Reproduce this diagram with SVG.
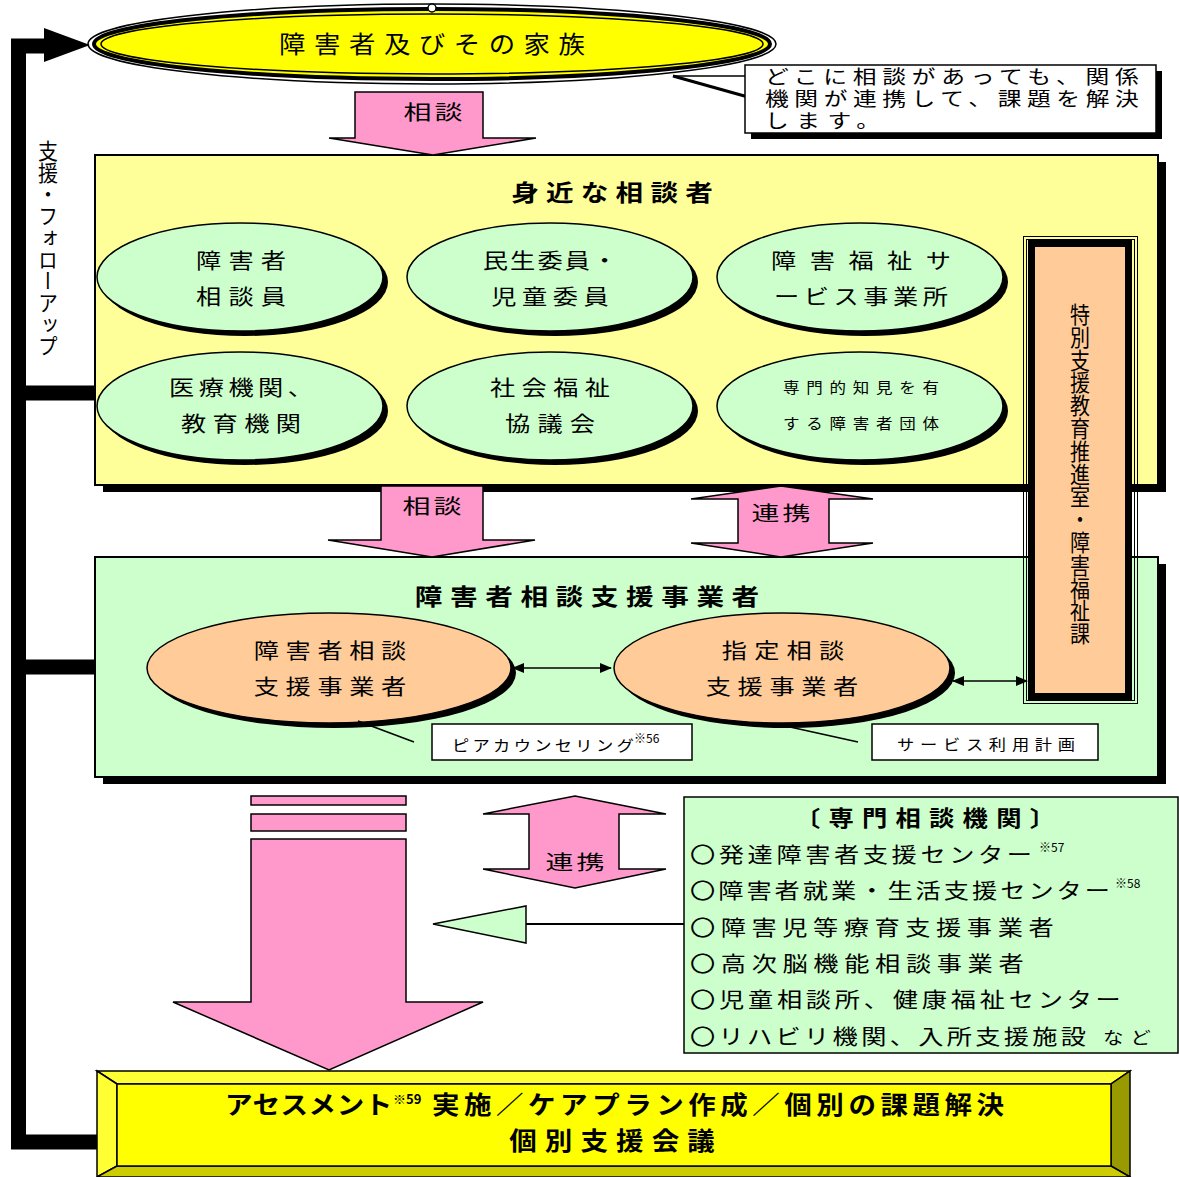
<svg xmlns="http://www.w3.org/2000/svg" width="1179" height="1177" viewBox="0 0 1179 1177">
<defs>
<style>
text{font-family:"Noto Sans CJK JP","Noto Sans CJK SC",sans-serif;fill:#000}
.t20{font-size:21px;text-anchor:middle}
.t15{font-size:15px;text-anchor:middle}
.b{font-weight:bold}
.pink{fill:#FF99CC;stroke:#000;stroke-width:1.5}
.sh{fill:#000}
.gE{fill:#CCFFCC;stroke:#000;stroke-width:1.5}
.oE{fill:#FFCC99;stroke:#000;stroke-width:1.5}
.lbl{fill:#fff;stroke:#000;stroke-width:1.5}
.thin{stroke:#000;stroke-width:1;fill:none}
.fb{stroke:#000;stroke-width:15;fill:none}
.vt{writing-mode:vertical-rl;font-size:20px}
.it{font-size:21px}
.cl{font-size:19px}
.arr{font-size:20px;text-anchor:middle}
</style>
<marker id="ah" viewBox="0 0 12 10" refX="11" refY="5" markerWidth="12" markerHeight="10" markerUnits="userSpaceOnUse" orient="auto-start-reverse">
<path d="M0,0 L12,5 L0,10 Z" fill="#000"/>
</marker>
</defs>
<rect width="1179" height="1177" fill="#fff"/>

<g id="yellow-box">
<rect x="103" y="162" width="1063" height="330" class="sh"/>
<rect x="95" y="155" width="1063" height="330" fill="#FFFF99" stroke="#000" stroke-width="2"/>
<text transform="translate(612,201) scale(1.2,1)" class="b" font-size="23" text-anchor="middle" textLength="168">身近な相談者</text>
</g>

<g id="green-box">
<rect x="103" y="564" width="1063" height="220" class="sh"/>
<rect x="95" y="557" width="1063" height="220" fill="#CCFFCC" stroke="#000" stroke-width="2"/>
<text transform="translate(587,605) scale(1.2,1)" class="b" font-size="23" text-anchor="middle" textLength="287">障害者相談支援事業者</text>
</g>

<g id="family">
<ellipse cx="432" cy="44" rx="344" ry="40" fill="#fff" stroke="#000" stroke-width="1.5"/>
<ellipse cx="432" cy="44" rx="338" ry="35" fill="#FFFF00" stroke="#000" stroke-width="4"/>
<ellipse cx="432" cy="44" rx="331" ry="30" fill="#FFFF00" stroke="#000" stroke-width="1.5"/>
<circle cx="432" cy="8" r="4" fill="#fff" stroke="#000" stroke-width="1.5"/>
<text transform="translate(432,53) scale(1.1,1)" font-size="24" text-anchor="middle" textLength="278">障害者及びその家族</text>
</g>

<g id="callout">
<rect x="751" y="71" width="411" height="68" class="sh"/>
<polygon points="673,76 748,76 748,97" fill="#fff" stroke="#000" stroke-width="1.5"/>
<line x1="673" y1="76" x2="748" y2="97" stroke="#000" stroke-width="3"/>
<rect x="745" y="65" width="411" height="68" fill="#fff" stroke="#000" stroke-width="1.5"/>
<text transform="translate(765,84) scale(1.25,1)" class="cl"><tspan x="0" y="0" textLength="299">どこに相談があっても、関係</tspan><tspan x="0" y="22" textLength="299">機関が連携して、課題を解決</tspan><tspan x="0" y="44" textLength="92">します。</tspan></text>
</g>

<g id="node-soudanin">
<ellipse cx="245" cy="282" rx="143" ry="54" class="sh"/>
<ellipse cx="240" cy="277" rx="143" ry="54" class="gE"/>
<text transform="translate(241,268) scale(1.2,1)" class="t20" textLength="75">障害者</text>
<text transform="translate(241,304) scale(1.2,1)" class="t20" textLength="75">相談員</text>
</g>
<g id="node-minsei">
<ellipse cx="555" cy="282" rx="143" ry="54" class="sh"/>
<ellipse cx="550" cy="277" rx="143" ry="54" class="gE"/>
<text transform="translate(550,268) scale(1.2,1)" class="t20" textLength="112">民生委員・</text>
<text transform="translate(550,304) scale(1.2,1)" class="t20" textLength="98">児童委員</text>
</g>
<g id="node-service">
<ellipse cx="865" cy="282" rx="143" ry="54" class="sh"/>
<ellipse cx="860" cy="277" rx="143" ry="54" class="gE"/>
<text transform="translate(861,268) scale(1.2,1)" class="t20" textLength="150">障害福祉サ</text>
<text transform="translate(861,304) scale(1.2,1)" class="t20" textLength="145">ービス事業所</text>
</g>
<g id="node-iryou">
<ellipse cx="245" cy="411" rx="143" ry="54" class="sh"/>
<ellipse cx="240" cy="406" rx="143" ry="54" class="gE"/>
<text transform="translate(241,395) scale(1.2,1)" class="t20" textLength="120">医療機関、</text>
<text transform="translate(241,431) scale(1.2,1)" class="t20" textLength="100">教育機関</text>
</g>
<g id="node-shakyo">
<ellipse cx="555" cy="411" rx="143" ry="54" class="sh"/>
<ellipse cx="550" cy="406" rx="143" ry="54" class="gE"/>
<text transform="translate(550,395) scale(1.2,1)" class="t20" textLength="100">社会福祉</text>
<text transform="translate(550,431) scale(1.2,1)" class="t20" textLength="75">協議会</text>
</g>
<g id="node-dantai">
<ellipse cx="865" cy="411" rx="143" ry="54" class="sh"/>
<ellipse cx="860" cy="406" rx="143" ry="54" class="gE"/>
<text transform="translate(861,393) scale(1.1,1)" class="t15" textLength="142">専門的知見を有</text>
<text transform="translate(861,429) scale(1.1,1)" class="t15" textLength="142">する障害者団体</text>
</g>

<g id="node-soudanshien">
<ellipse cx="334" cy="673" rx="182" ry="55" class="sh"/>
<ellipse cx="329" cy="668" rx="182" ry="55" class="oE"/>
<text transform="translate(330,658) scale(1.2,1)" class="t20" textLength="127">障害者相談</text>
<text transform="translate(330,694) scale(1.2,1)" class="t20" textLength="127">支援事業者</text>
</g>
<g id="node-shitei">
<ellipse cx="787" cy="673" rx="168" ry="55" class="sh"/>
<ellipse cx="782" cy="668" rx="168" ry="55" class="oE"/>
<text transform="translate(783,658) scale(1.2,1)" class="t20" textLength="102">指定相談</text>
<text transform="translate(782,694) scale(1.2,1)" class="t20" textLength="127">支援事業者</text>
</g>

<g id="node-tokubetsu">
<rect x="1023.5" y="236.5" width="114" height="467" class="thin"/>
<rect x="1026.5" y="239.5" width="108" height="461" class="thin"/>
<rect x="1031.5" y="243.5" width="97" height="453" fill="#FFCC99" stroke="#000" stroke-width="7"/>
<text x="1080" y="303" class="vt" textLength="342" lengthAdjust="spacingAndGlyphs">特別支援教育推進室・障害福祉課</text>
</g>

<g id="label-peer">
<line x1="358" y1="721" x2="414" y2="742" stroke="#000" stroke-width="1.5"/>
<rect x="432" y="724" width="260" height="36" class="lbl"/>
<text transform="translate(452,751) scale(1.15,1)" font-size="15" textLength="158">ピアカウンセリング</text>
<text x="634" y="743" font-size="12">※56</text>
</g>
<g id="label-plan">
<line x1="790" y1="727" x2="858" y2="742" stroke="#000" stroke-width="1.5"/>
<rect x="872" y="724" width="226" height="36" class="lbl"/>
<text transform="translate(986,750) scale(1.15,1)" class="t15" textLength="155">サービス利用計画</text>
</g>

<g id="node-senmon">
<rect x="684" y="797" width="494" height="256" fill="#CCFFCC" stroke="#000" stroke-width="1.5"/>
<text transform="translate(925,826) scale(1.15,1)" class="b" font-size="22" text-anchor="middle" textLength="226">〔専門相談機関〕</text>
<text transform="translate(690,862) scale(1.2,1)" class="it" textLength="285">〇発達障害者支援センター</text>
<text x="1039" y="852" font-size="12">※57</text>
<text transform="translate(690,898) scale(1.2,1)" class="it" textLength="350">〇障害者就業・生活支援センター</text>
<text x="1115" y="888" font-size="12">※58</text>
<text transform="translate(690,935) scale(1.2,1)" class="it" textLength="303">〇障害児等療育支援事業者</text>
<text transform="translate(690,971) scale(1.2,1)" class="it" textLength="278">〇高次脳機能相談事業者</text>
<text transform="translate(690,1007) scale(1.2,1)" class="it" textLength="359">〇児童相談所、健康福祉センター</text>
<text transform="translate(690,1044) scale(1.2,1)" class="it" textLength="330">〇リハビリ機関、入所支援施設</text>
<text transform="translate(1103,1044) scale(1.2,1)" font-size="17" textLength="40">など</text>
</g>

<g id="node-assessment">
<polygon points="97,1071 1130,1071 1111,1084 117,1084" fill="#FFFF33" stroke="#000" stroke-width="1.5"/>
<polygon points="97,1071 117,1084 117,1166 97,1177" fill="#FFFF33" stroke="#000" stroke-width="1.5"/>
<polygon points="1130,1071 1130,1177 1111,1166 1111,1084" fill="#999900" stroke="#000" stroke-width="1.5"/>
<polygon points="117,1166 1111,1166 1130,1177 97,1177" fill="#CCCC00" stroke="#000" stroke-width="1.5"/>
<rect x="117" y="1084" width="994" height="82" fill="#FFFF00" stroke="#000" stroke-width="1.5"/>
<text transform="translate(225,1114) scale(1.1,1)" class="b" font-size="25" textLength="152">アセスメント</text>
<text x="393" y="1104" class="b" font-size="13">※59</text>
<text transform="translate(432,1114) scale(1.1,1)" class="b" font-size="25" textLength="520">実施／ケアプラン作成／個別の課題解決</text>
<text transform="translate(612,1150) scale(1.1,1)" class="b" font-size="25" text-anchor="middle" textLength="187">個別支援会議</text>
</g>

<g id="connectors">
<path class="fb" d="M97,1142 H18.5 V46 H52"/>
<path class="fb" d="M18,393 H96"/>
<path class="fb" d="M18,667 H96"/>
<polygon points="44,28 90,45 44,62" fill="#000"/>
<path class="pink" d="M355,92 H483 V138 H536 L433,155 L329,138 H355 Z"/>
<text transform="translate(433,120) scale(1.4,1)" class="arr" textLength="42">相談</text>
<path class="pink" d="M381,486 H483 V540 H535 L432,557 L328,540 H381 Z"/>
<text transform="translate(432,514) scale(1.4,1)" class="arr" textLength="42">相談</text>
<path class="pink" d="M781,486 L873,499 H829 V543 H873 L781,557 L691,543 H738 V499 H691 Z"/>
<text transform="translate(781,521) scale(1.4,1)" class="arr" textLength="42">連携</text>
<line x1="513" y1="668" x2="611" y2="668" stroke="#000" stroke-width="1.5" marker-start="url(#ah)" marker-end="url(#ah)"/>
<line x1="953" y1="681" x2="1027" y2="681" stroke="#000" stroke-width="1.5" marker-start="url(#ah)" marker-end="url(#ah)"/>
<rect x="251" y="796" width="155" height="9" class="pink"/>
<rect x="251" y="814" width="155" height="17" class="pink"/>
<path class="pink" d="M251,839 H406 V1002 H483 L329,1070 L173,1002 H251 Z"/>
<path class="pink" d="M575,796 L666,814 H619 V869 H666 L575,888 L483,869 H529 V814 H483 Z"/>
<text transform="translate(575,870) scale(1.4,1)" class="arr" textLength="42">連携</text>
<line x1="526" y1="924" x2="684" y2="924" stroke="#000" stroke-width="2"/>
<polygon points="433,924 526,906 526,943" fill="#CCFFCC" stroke="#000" stroke-width="1.5"/>
<text x="48" y="140" class="vt" textLength="217" lengthAdjust="spacingAndGlyphs">支援・フォローアップ</text>
</g>
</svg>
